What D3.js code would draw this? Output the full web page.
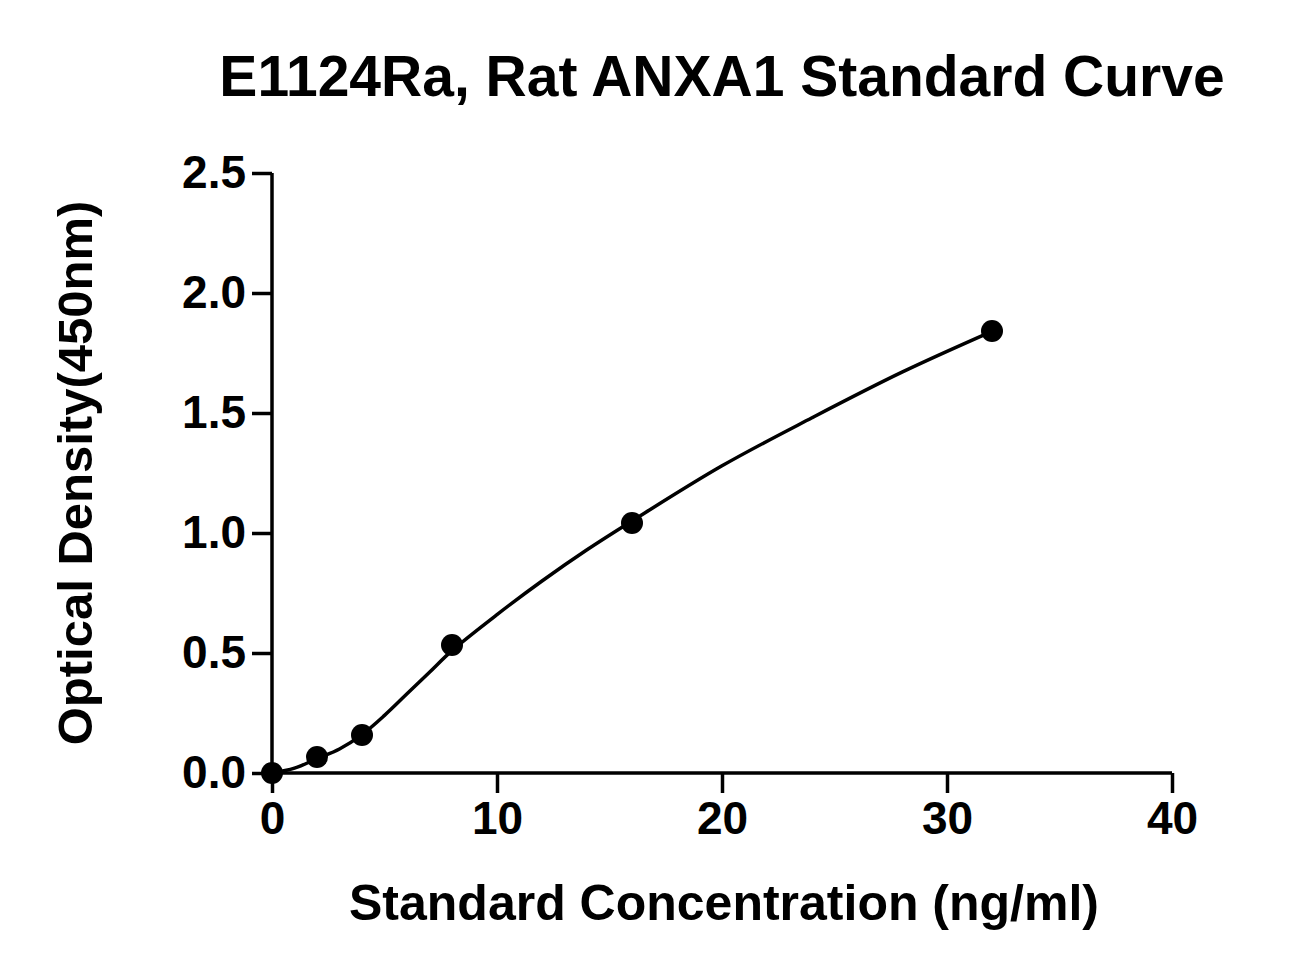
<!DOCTYPE html>
<html>
<head>
<meta charset="utf-8">
<script src="https://cdn.jsdelivr.net/npm/d3@7"></script>
<style>
  body { margin: 0; background: #fff; }
  text { font-family: "Liberation Sans", Arial, sans-serif; font-weight: bold; }
</style>
</head>
<body>
<div id="chart"></div>
<script>
const WIDTH = 1311, HEIGHT = 975;

// standard points
const conc = [0, 2, 4, 8, 16, 32];
const od = [0.0, 0.067, 0.158, 0.533, 1.042, 1.842];

// fitted curve
const curveX = [0, 1, 2, 3, 4, 5, 6, 7, 8, 10, 12, 14, 16, 20, 24, 28, 32];
const curveY = [0.0, 0.02, 0.06, 0.10, 0.16, 0.24, 0.33, 0.42, 0.51, 0.66, 0.80, 0.93, 1.05, 1.28, 1.48, 1.67, 1.84];

const xTicks = [0, 10, 20, 30, 40];
const yTicks = [0.0, 0.5, 1.0, 1.5, 2.0, 2.5];

const svg = d3.select("#chart").append("svg")
    .attr("width", WIDTH)
    .attr("height", HEIGHT);

const x = d3.scaleLinear().domain([0, 40]).range([272, 1172]);
const y = d3.scaleLinear().domain([0, 2.5]).range([773, 173]);

svg.append("text")
    .text("E1124Ra, Rat ANXA1 Standard Curve")
    .attr("x", 722).attr("y", 96)
    .attr("font-size", "57px")
    .attr("text-anchor", "middle");

const xAxis = svg.append("g")
    .attr("transform", "translate(0,773)")
    .call(d3.axisBottom(x).tickValues(xTicks).tickSize(20).tickPadding(8).tickFormat(d3.format("d")));
const yAxis = svg.append("g")
    .attr("transform", "translate(272,0)")
    .call(d3.axisLeft(y).tickValues(yTicks).tickSize(20).tickPadding(6).tickFormat(d3.format(".1f")));

[xAxis, yAxis].forEach(a => {
    a.selectAll("path, line").attr("stroke", "#000").attr("stroke-width", 3.5);
    a.select(".domain").attr("d", a === xAxis ? "M272,0H1172" : "M0,773V173");
    a.selectAll("text").attr("fill", "#000")
        .style("font-size", "46px")
        .style("font-family", "Liberation Sans, Arial, sans-serif").style("font-weight", "bold");
});

svg.append("text")
    .text("Standard Concentration (ng/ml)")
    .attr("x", 724).attr("y", 920)
    .attr("font-size", "50px")
    .attr("text-anchor", "middle");

svg.append("text")
    .text("Optical Density(450nm)")
    .attr("transform", "translate(92,473) rotate(-90)")
    .attr("font-size", "49px")
    .attr("text-anchor", "middle");

const line = d3.line()
    .x((d, i) => x(curveX[i]))
    .y(d => y(d))
    .curve(d3.curveCatmullRom.alpha(0.5));

svg.append("path")
    .attr("d", line(curveY))
    .attr("fill", "none")
    .attr("stroke", "#000")
    .attr("stroke-width", 3.5);

svg.selectAll("circle.pt")
    .data(conc)
    .join("circle")
    .attr("class", "pt")
    .attr("cx", d => x(d))
    .attr("cy", (d, i) => y(od[i]))
    .attr("r", 11)
    .attr("fill", "#000");
</script>
</body>
</html>
